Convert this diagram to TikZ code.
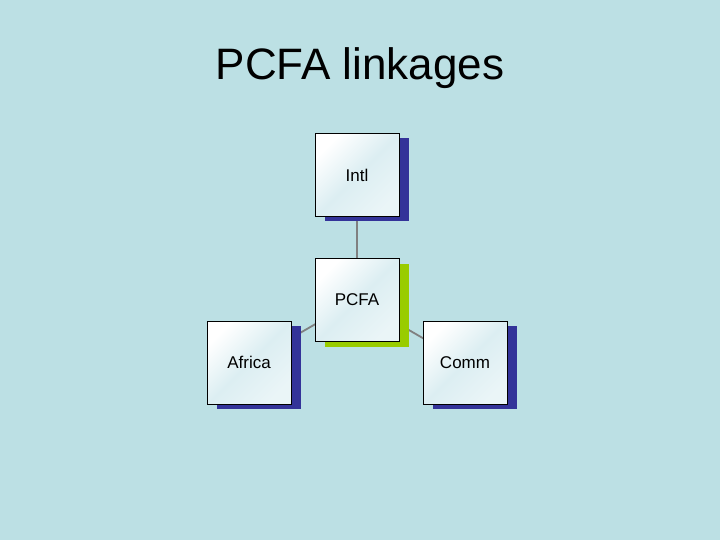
\documentclass[tikz,border=0pt]{standalone}
\usepackage{fontspec}
\setmainfont{Liberation Sans}
\usetikzlibrary{shadows,backgrounds}
\definecolor{bgcol}{RGB}{188,224,228}
\definecolor{shblue}{RGB}{51,51,153}
\definecolor{shgreen}{RGB}{153,204,0}
\definecolor{boxtint}{RGB}{220,238,242}
\definecolor{linkgray}{RGB}{128,128,128}
\tikzset{
  orgbox/.style={draw=black, line width=0.8pt, minimum width=84pt, minimum height=83pt,
    inner sep=0pt, font=\fontsize{17}{20}\selectfont,
    left color=white, right color=boxtint!60!white, middle color=boxtint, shading angle=45},
  blueshadow/.style={general shadow={shadow xshift=10pt, shadow yshift=-5pt, fill=shblue}},
  greenshadow/.style={general shadow={shadow xshift=10pt, shadow yshift=-5pt, fill=shgreen}},
  link/.style={draw=linkgray, line width=1.8pt}
}
\begin{document}
\begin{tikzpicture}[x=1pt,y=-1pt]
\useasboundingbox (0,0) rectangle (720,540);
\node (title) at (360,68) {\fontsize{44}{50}\selectfont PCFA linkages};
\node[orgbox, blueshadow] (intl) at (357,175) {Intl};
\node[orgbox, greenshadow] (pcfa) at (357,300) {PCFA};
\node[orgbox, blueshadow] (africa) at (249,362.5) {Africa};
\node[orgbox, blueshadow] (comm) at (465,362.5) {Comm};
\begin{scope}[on background layer]
  \fill[bgcol] (0,0) rectangle (720,540);
  \draw[link] (intl.center) -- (pcfa.center);
  \draw[link] (pcfa.center) -- (africa.center);
  \draw[link] (pcfa.center) -- (comm.center);
\end{scope}
\end{tikzpicture}
\end{document}
